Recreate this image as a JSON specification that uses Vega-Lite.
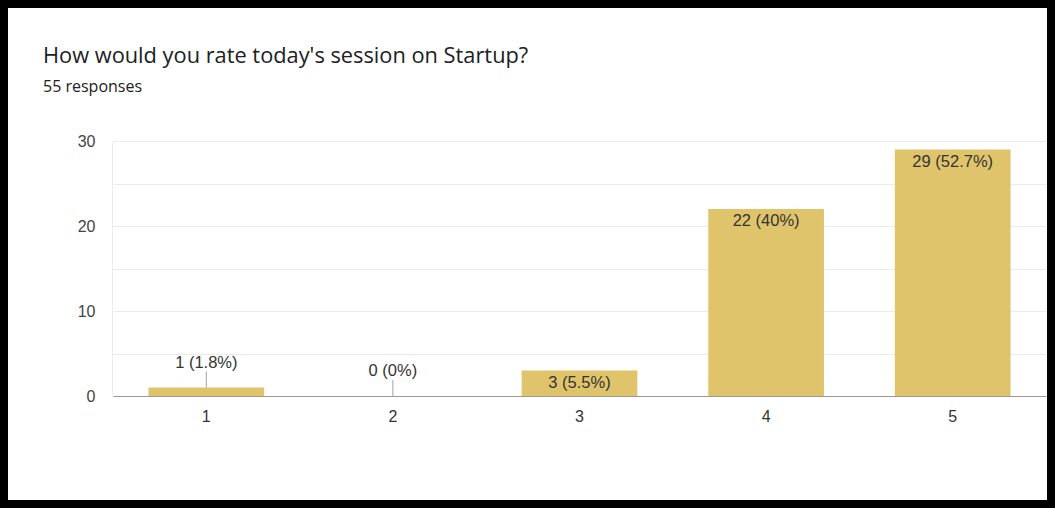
{
  "$schema": "https://vega.github.io/schema/vega-lite/v6.json",
  "width": 1055,
  "height": 508,
  "autosize": {"type": "none"},
  "padding": 0,
  "background": "white",
  "title": {
    "text": "How would you rate today's session on Startup?",
    "subtitle": "55 responses",
    "anchor": "start",
    "frame": "group",
    "dx": 43,
    "offset": -95,
    "font": "Open Sans",
    "fontSize": 21.8,
    "fontWeight": "normal",
    "color": "#202124",
    "subtitleFont": "Open Sans",
    "subtitleFontSize": 16,
    "subtitleColor": "#202124",
    "subtitlePadding": 11
  },
  "data": {
    "values": [
      {"rating": "1", "count": 1, "label": "1 (1.8%)"},
      {"rating": "2", "count": 0, "label": "0 (0%)"},
      {"rating": "3", "count": 3, "label": "3 (5.5%)"},
      {"rating": "4", "count": 22, "label": "22 (40%)"},
      {"rating": "5", "count": 29, "label": "29 (52.7%)"}
    ]
  },
  "encoding": {
    "x": {
      "field": "rating",
      "type": "nominal",
      "sort": null,
      "scale": {"domain": ["1", "2", "3", "4", "5"], "range": [113, 1046], "paddingInner": 0.38, "paddingOuter": 0.19},
      "axis": {
        "title": null,
        "labelAngle": 0,
        "offset": -112,
        "ticks": false,
        "labelPadding": 12,
        "labelFont": "Liberation Sans",
        "labelFontSize": 16,
        "labelColor": "#333333",
        "domainColor": "#9a9a9a",
        "domainWidth": 1.2,
        "zindex": 1
      }
    },
    "y": {
      "field": "count",
      "type": "quantitative",
      "scale": {"domain": [0, 30], "range": [396, 141], "nice": false},
      "axis": {
        "title": null,
        "values": [0, 5, 10, 15, 20, 25, 30],
        "labelExpr": "datum.value % 10 === 0 ? datum.label : ''",
        "offset": -112,
        "ticks": false,
        "labelPadding": 17,
        "labelFont": "Liberation Sans",
        "labelFontSize": 16,
        "labelColor": "#444444",
        "domainColor": "#ebebeb",
        "gridColor": "#ebebeb",
        "grid": true
      }
    }
  },
  "layer": [
    {"mark": {"type": "bar", "color": "#e0c46c"}},
    {
      "transform": [{"filter": "datum.count >= 3"}],
      "mark": {"type": "text", "baseline": "middle", "dy": 12, "font": "Liberation Sans", "fontSize": 16.5, "color": "#333333"},
      "encoding": {"text": {"field": "label"}}
    },
    {
      "transform": [{"filter": "datum.count < 3"}],
      "mark": {"type": "text", "baseline": "middle", "dy": -25, "font": "Liberation Sans", "fontSize": 16.5, "color": "#333333"},
      "encoding": {"text": {"field": "label"}}
    },
    {
      "transform": [{"filter": "datum.count < 3"}],
      "mark": {"type": "rule", "color": "#a0a0a0", "strokeWidth": 1, "y2Offset": -16},
      "encoding": {"y2": {"field": "count"}}
    }
  ],
  "config": {
    "view": {"fill": "white", "stroke": "black", "strokeWidth": 16}
  }
}
